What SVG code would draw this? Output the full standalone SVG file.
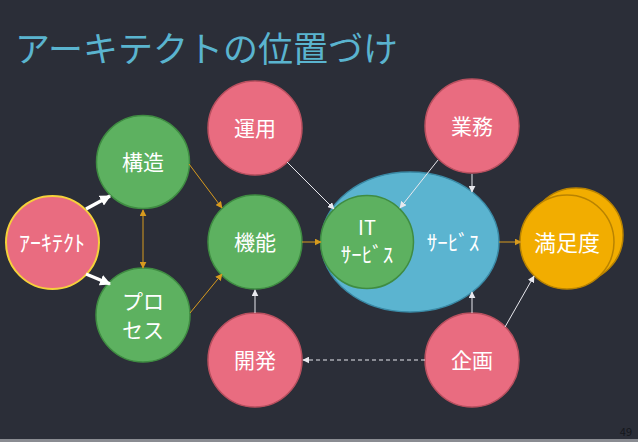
<svg xmlns="http://www.w3.org/2000/svg" width="638" height="442" viewBox="0 0 638 442">
<style>
text{font-family:"Noto Sans CJK JP","Noto Sans CJK SC",sans-serif;fill:#ffffff;text-anchor:middle;dominant-baseline:central}
.pink{fill:#e96c80;stroke:#b9505f;stroke-width:1.5}
.green{fill:#5db160;stroke:#3f8c42;stroke-width:1.5}
.blue{fill:#5bb4d0;stroke:#3a8aa6;stroke-width:1.5}
.orange{fill:#f2ad00;stroke:#b98300;stroke-width:1.5}
.lbl{font-size:21px}
.wt{stroke:#ffffff;stroke-width:3.5;fill:none}
.wn{stroke:#e8e8ee;stroke-width:1;fill:none}
.or{stroke:#d79a1e;stroke-width:1;fill:none}
</style>
<defs>
<marker id="aw" viewBox="0 0 10 10" refX="9" refY="5" markerWidth="11" markerHeight="11" markerUnits="userSpaceOnUse" orient="auto"><path d="M0,0 L10,5 L0,10 z" fill="#ffffff"/></marker>
<marker id="an" viewBox="0 0 10 10" refX="9" refY="5" markerWidth="7" markerHeight="7" markerUnits="userSpaceOnUse" orient="auto"><path d="M0,0 L10,5 L0,10 z" fill="#e8e8ee"/></marker>
<marker id="ao" viewBox="0 0 10 10" refX="9" refY="5" markerWidth="7" markerHeight="7" markerUnits="userSpaceOnUse" orient="auto-start-reverse"><path d="M0,0 L10,5 L0,10 z" fill="#d79a1e"/></marker>
</defs>
<rect x="0" y="0" width="638" height="442" fill="#2b2e38"/>
<rect x="0" y="439" width="638" height="3" fill="#8a8c92"/>
<text x="15" y="46" style="font-size:35px;fill:#5ab4cf;text-anchor:start">アーキテクトの位置づけ</text>
<text x="632" y="431" style="font-size:11px;fill:#15171c;text-anchor:end">49</text>

<g id="unyo"><circle class="pink" cx="255" cy="128" r="47"/><text class="lbl" x="255" y="127">運用</text></g>
<g id="gyomu"><circle class="pink" cx="472" cy="126" r="47"/><text class="lbl" x="472" y="125">業務</text></g>
<g id="kouzou"><circle class="green" cx="143" cy="162" r="46.5"/><text class="lbl" x="143" y="161">構造</text></g>
<g id="architect"><circle cx="52.5" cy="242.5" r="46.5" fill="#e96c80" stroke="#f5d13a" stroke-width="2"/><text x="52" y="241" style="font-size:22px">ｱｰｷﾃｸﾄ</text></g>
<g id="process"><circle class="green" cx="143" cy="315" r="47"/><text x="143" y="300" style="font-size:21px">プロ</text><text x="143" y="329" style="font-size:21px">セス</text></g>
<g id="kinou"><circle class="green" cx="255" cy="242" r="47"/><text class="lbl" x="255" y="241">機能</text></g>
<g id="kaihatsu"><circle class="pink" cx="255" cy="360" r="47"/><text class="lbl" x="255" y="359">開発</text></g>
<g id="kikaku"><circle class="pink" cx="472" cy="360" r="47"/><text class="lbl" x="472" y="359">企画</text></g>
<g id="service"><ellipse class="blue" cx="410" cy="242" rx="89" ry="70"/><text x="453" y="241" style="font-size:21px">ｻｰﾋﾞｽ</text></g>
<g id="itservice"><circle class="green" cx="367" cy="242" r="46.5"/><text x="367" y="226" style="font-size:20px">IT</text><text x="367" y="253" style="font-size:21px">ｻｰﾋﾞｽ</text></g>
<g id="manzokudo"><circle class="orange" cx="576" cy="235" r="47"/><circle class="orange" cx="567" cy="242" r="47"/><text x="567" y="241" style="font-size:22px">満足度</text></g>

<g id="connectors">
<line class="wt" x1="86" y1="209" x2="110" y2="196" marker-end="url(#aw)"/>
<line class="wt" x1="86" y1="274" x2="110" y2="284" marker-end="url(#aw)"/>
<line class="or" x1="143" y1="210" x2="143" y2="268" marker-start="url(#ao)" marker-end="url(#ao)"/>
<line class="or" x1="189" y1="164" x2="222" y2="208" marker-end="url(#ao)"/>
<line class="or" x1="190" y1="313" x2="222" y2="274" marker-end="url(#ao)"/>
<line class="or" x1="302" y1="242" x2="321" y2="242" marker-end="url(#ao)"/>
<line class="or" x1="499" y1="242" x2="521" y2="242" marker-end="url(#ao)"/>
<line class="wn" x1="287" y1="162" x2="334" y2="209" marker-end="url(#an)"/>
<line class="wn" x1="438" y1="160" x2="400" y2="208" marker-end="url(#an)"/>
<line class="wn" x1="472" y1="174" x2="472" y2="192" marker-end="url(#an)"/>
<line class="wn" x1="472" y1="313" x2="472" y2="292" marker-end="url(#an)"/>
<line class="wn" x1="255" y1="313" x2="255" y2="290" marker-end="url(#an)"/>
<line class="wn" x1="505" y1="327" x2="534" y2="276" marker-end="url(#an)"/>
<line class="wn" x1="425" y1="360" x2="303" y2="360" stroke-dasharray="4,3" stroke-width="1.5" marker-end="url(#an)"/>
</g>
</svg>
